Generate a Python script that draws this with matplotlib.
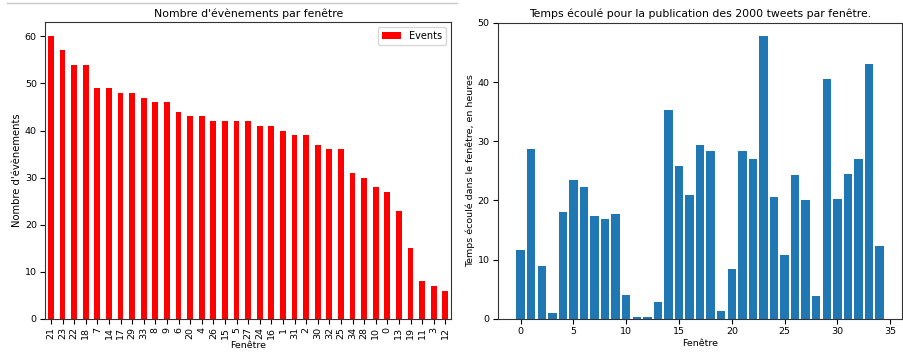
import matplotlib
matplotlib.use("Agg")
import matplotlib.pyplot as plt
from matplotlib.lines import Line2D

# Nombre d'événements par fenêtre (trié)
fenetres_triees = ["21", "23", "22", "18", "7", "14", "17", "29", "33", "8", "9", "6",
                   "20", "4", "26", "15", "5", "27", "24", "16", "1", "31", "2", "30",
                   "32", "25", "34", "28", "10", "0", "13", "19", "11", "3", "12"]
nb_events = [60, 57, 54, 54, 49, 49, 48, 48, 47, 46, 46, 44,
             43, 43, 42, 42, 42, 42, 41, 41, 40, 39, 39, 37,
             36, 36, 31, 30, 28, 27, 23, 15, 8, 7, 6]

# Temps écoulé par fenêtre (heures)
fenetres = list(range(35))
temps_heures = [11.7, 28.7, 8.9, 1.0, 18.0, 23.4, 22.2, 17.4, 16.8, 17.7,
                4.0, 0.3, 0.3, 2.8, 35.3, 25.8, 21.0, 29.4, 28.4, 1.4,
                8.5, 28.3, 27.0, 47.8, 20.6, 10.8, 24.3, 20.1, 3.9, 40.5,
                20.3, 24.4, 27.0, 43.0, 12.3]

plt.rcParams['font.size'] = 6.8
plt.rcParams['xtick.major.pad'] = 2.5
plt.rcParams['ytick.major.pad'] = 2.5
plt.rcParams['axes.labelpad'] = 2
plt.rcParams['axes.edgecolor'] = '#333333'

fig = plt.figure(figsize=(9.04, 3.52), dpi=100)

# graphique de gauche
ax1 = fig.add_axes([0.050, 0.094, 0.449, 0.843])
pos = range(len(fenetres_triees))
ax1.bar(pos, nb_events, width=0.5, color='red', label='Events')
ax1.set_xticks(list(pos))
ax1.set_xticklabels(fenetres_triees, rotation=90)
ax1.set_xlim(-0.5, len(fenetres_triees) - 0.5)
ax1.set_title("Nombre d'évènements par fenêtre", fontsize=7.8, pad=4)
ax1.set_xlabel("Fenêtre", labelpad=1)
ax1.set_ylabel("Nombre d'évènements", fontsize=7.2)
ax1.legend(loc='upper right', fontsize=7)

# graphique de droite
ax2 = fig.add_axes([0.551, 0.094, 0.447, 0.841])
ax2.bar(fenetres, temps_heures)
ax2.set_ylim(0, 50)
ax2.set_title("Temps écoulé pour la publication des 2000 tweets par fenêtre.", fontsize=7.8, pad=4)
ax2.set_xlabel("Fenêtre")
ax2.set_ylabel("Temps écoulé dans le fenêtre, en heures")

# trait gris du haut
fig.add_artist(Line2D([7 / 904, 457 / 904], [1 - 3 / 352, 1 - 3 / 352], color='#c8c8c8', lw=1))

fig.savefig("out.png", dpi=100)
